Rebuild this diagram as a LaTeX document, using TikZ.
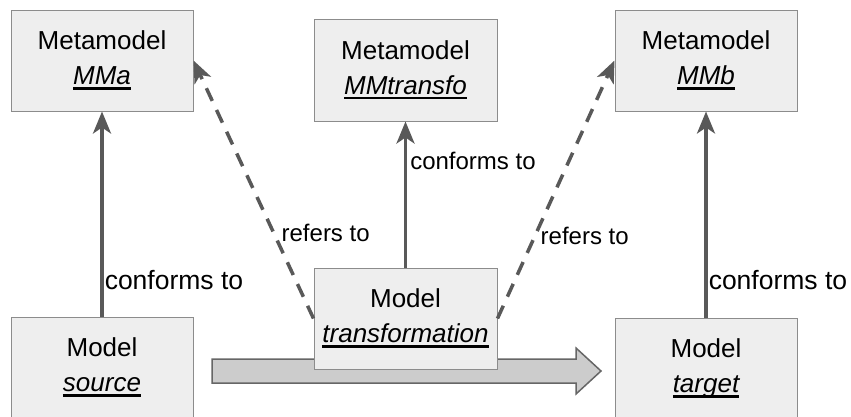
\documentclass[tikz,border=0pt]{standalone}
\usepackage{fontspec}
\setmainfont{Liberation Sans}
\usetikzlibrary{arrows.meta}
\definecolor{boxfill}{HTML}{EEEEEE}
\definecolor{boxline}{HTML}{8C8C8C}
\definecolor{conn}{HTML}{595959}
\definecolor{bigfill}{HTML}{CCCCCC}
\definecolor{bigline}{HTML}{666666}
\newcommand\myul[1]{\setbox0=\hbox{#1}\rlap{\copy0}\rule[-5pt]{\wd0}{2.5pt}}
\tikzset{
  box/.style={draw=boxline, line width=1pt, fill=boxfill, minimum width=182pt, minimum height=101pt,
    inner sep=0pt, align=center, font=\fontsize{26}{35}\selectfont},
  conf/.style={draw=conn, line width=3.5pt, -{Stealth[length=22pt,width=18pt,inset=6pt]}},
  refr/.style={draw=conn, line width=3.5pt, dash pattern=on 14pt off 10pt, -{Stealth[length=22pt,width=18pt,inset=6pt]}},
  biglbl/.style={font=\fontsize{26.5}{30}\selectfont, inner sep=1pt, anchor=west},
  smllbl/.style={font=\fontsize{24}{28}\selectfont, inner sep=1pt, anchor=west},
}
\begin{document}
\begin{tikzpicture}[x=1pt,y=-1pt]
\useasboundingbox (0,0) rectangle (851,416);
% big transformation arrow (drawn first, behind the boxes)
\draw[fill=bigfill, draw=bigline, line width=1.5pt, line join=miter]
  (212,359) -- (576,359) -- (576,348) -- (601,371) -- (576,394) -- (576,383) -- (212,383) -- cycle;
% boxes
\node[box] (MMa) at (102,60.5) {Metamodel\\\myul{\itshape MMa}};
\node[box, minimum width=183pt, minimum height=102pt] (MMt) at (405.5,70) {Metamodel\\\myul{\itshape MMtransfo}};
\node[box] (MMb) at (706,60.5) {Metamodel\\\myul{\itshape MMb}};
\node[box] (src) at (102,367.5) {Model\\\myul{\itshape source}};
\node[box, minimum width=183pt] (trans) at (405.5,318.5) {Model\\\myul{\itshape transformation}};
\node[box] (tgt) at (706,368.5) {Model\\\myul{\itshape target}};
% connectors
\draw[conf] (src.north) -- node[pos=0.18, biglbl] {conforms to} (MMa.south);
\draw[conf] (trans.north) -- node[pos=0.73, smllbl, xshift=2pt] {conforms to} (MMt.south);
\draw[conf] (tgt.north) -- node[pos=0.18, biglbl] {conforms to} (MMb.south);
\draw[refr] (trans.west) -- node[pos=0.33, smllbl, xshift=5pt] {refers to} (MMa.east);
\draw[refr] (trans.east) -- node[pos=0.32, smllbl, xshift=3pt] {refers to} (MMb.west);
\end{tikzpicture}
\end{document}
